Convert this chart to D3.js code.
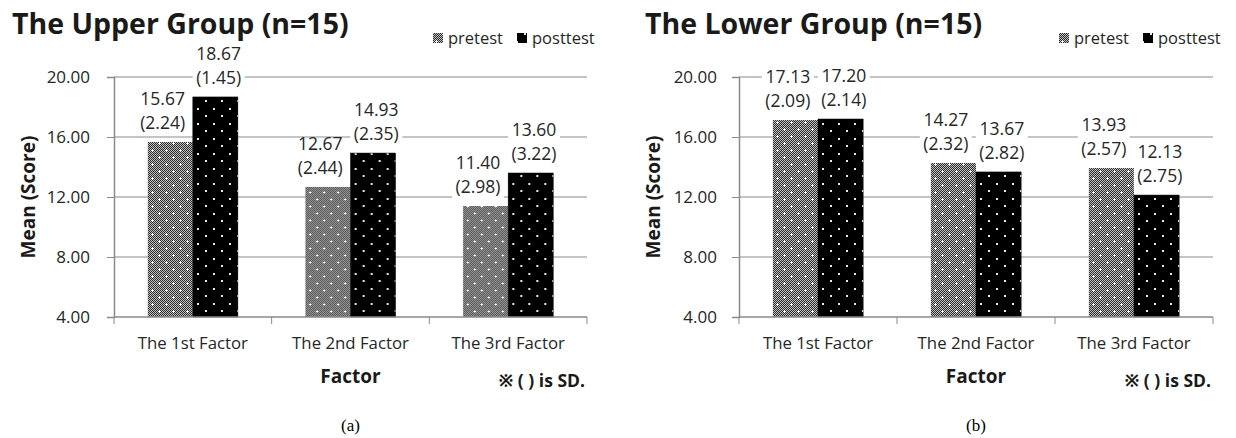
<!DOCTYPE html>
<html>
<head>
<meta charset="utf-8">
<script src="https://cdn.jsdelivr.net/npm/d3@7"></script>
<style>
  body { margin: 0; background: #fff; }
  svg { display: block; font-family: 'Open Sans', 'Noto Sans', sans-serif; }
</style>
</head>
<body>
<div id="chart"></div>
<script>
const factors = ['The 1st Factor', 'The 2nd Factor', 'The 3rd Factor']
const seriesNames = ['pretest', 'posttest']
const yTicks = [4, 8, 12, 16, 20]

const upperPre = [15.67, 12.67, 11.40]
const upperPreSD = [2.24, 2.44, 2.98]
const upperPost = [18.67, 14.93, 13.60]
const upperPostSD = [1.45, 2.35, 3.22]

const lowerPre = [17.13, 14.27, 13.93]
const lowerPreSD = [2.09, 2.32, 2.57]
const lowerPost = [17.20, 13.67, 12.13]
const lowerPostSD = [2.14, 2.82, 2.75]

const width = 1236
const height = 438
const textColor = '#262626'
const axisColor = '#8a8a8a'

const svg = d3.select('#chart')
  .append('svg')
  .attr('width', width)
  .attr('height', height)

// fill patterns: fine halftone with white crosses, black with white dots
const defs = svg.append('defs')
const checker = defs.append('pattern')
  .attr('id', 'checker')
  .attr('width', 2).attr('height', 2)
  .attr('patternUnits', 'userSpaceOnUse')
checker.append('rect').attr('width', 2).attr('height', 2).attr('fill', '#fff')
checker.append('rect').attr('width', 1).attr('height', 1).attr('fill', '#000')
checker.append('rect').attr('x', 1).attr('y', 1).attr('width', 1).attr('height', 1).attr('fill', '#000')

const prePat = defs.append('pattern')
  .attr('id', 'pat-pretest')
  .attr('width', 14).attr('height', 14)
  .attr('patternUnits', 'userSpaceOnUse')
prePat.append('rect').attr('width', 14).attr('height', 14).attr('fill', '#6a6a6a')
prePat.append('rect').attr('width', 14).attr('height', 14).attr('fill', 'url(#checker)').attr('opacity', 0.6)
;[[3, 3], [10, 10]].forEach(([cx, cy]) => {
  prePat.append('rect').attr('x', cx - 1).attr('y', cy).attr('width', 3).attr('height', 1).attr('fill', '#fff')
  prePat.append('rect').attr('x', cx).attr('y', cy - 1).attr('width', 1).attr('height', 3).attr('fill', '#fff')
})

const postPat = defs.append('pattern')
  .attr('id', 'pat-posttest')
  .attr('width', 16).attr('height', 15)
  .attr('patternUnits', 'userSpaceOnUse')
postPat.append('rect').attr('width', 16).attr('height', 15).attr('fill', '#000')
;[[3, 3], [11, 10]].forEach(([cx, cy]) => {
  postPat.append('rect').attr('x', cx).attr('y', cy).attr('width', 2).attr('height', 2).attr('fill', '#e8e8e8')
})

const fills = { pretest: 'url(#pat-pretest)', posttest: 'url(#pat-posttest)' }

function drawChart (opts) {
  const { left, right, title, titleX, pre, preSD, post, postSD, legendX, tickLabelX, yTitleX, caption } = opts
  const top = 77
  const bottom = 317

  const g = svg.append('g')

  const y = d3.scaleLinear().domain([4, 20]).range([bottom, top])
  const x = d3.scaleBand().domain(factors).range([left, right]).padding(0)
  const x1 = d3.scaleBand().domain(seriesNames).range([0, x.bandwidth()]).paddingInner(0).paddingOuter(0.75)

  // title
  g.append('text')
    .attr('x', titleX)
    .attr('y', 34)
    .attr('font-size', 28.5)
    .attr('font-weight', 'bold')
    .attr('fill', '#1a1a1a')
    .text(title)

  // legend
  const legend = g.append('g').attr('transform', `translate(${legendX},38)`)
  let lx = 0
  seriesNames.forEach(name => {
    legend.append('rect')
      .attr('x', lx).attr('y', -5)
      .attr('width', 10).attr('height', 10)
      .attr('fill', fills[name])
    const t = legend.append('text')
      .attr('x', lx + 15)
      .attr('dy', '0.35em')
      .attr('font-size', 16.5)
      .attr('fill', textColor)
      .text(name)
    lx += 15 + t.node().getComputedTextLength() + 14
  })

  // gridlines
  g.append('g')
    .selectAll('line')
    .data(yTicks.filter(d => d !== 4))
    .join('line')
    .attr('x1', left).attr('x2', right)
    .attr('y1', d => y(d)).attr('y2', d => y(d))
    .attr('stroke', axisColor)
    .attr('stroke-width', 1)

  // y axis
  const yAxis = g.append('g')
    .attr('transform', `translate(${left},0)`)
    .call(d3.axisLeft(y).tickValues(yTicks).tickFormat(d3.format('.2f')).tickSize(7).tickPadding(0))
  yAxis.select('.domain').attr('stroke', axisColor).attr('stroke-width', 1.5)
  yAxis.selectAll('.tick line').attr('stroke', axisColor)
  yAxis.selectAll('.tick text')
    .attr('x', tickLabelX - left)
    .attr('font-size', 17)
    .attr('font-family', "'Open Sans', sans-serif")
    .attr('fill', textColor)

  g.append('text')
    .attr('transform', `translate(${yTitleX},${(top + bottom) / 2}) rotate(-90)`)
    .attr('text-anchor', 'middle')
    .attr('dy', '0.35em')
    .attr('font-size', 19)
    .attr('font-weight', 'bold')
    .attr('fill', '#1a1a1a')
    .text('Mean (Score)')

  // bars
  const rows = factors.map((f, i) => ({
    factor: f,
    items: [
      { series: 'pretest', value: pre[i], sd: preSD[i] },
      { series: 'posttest', value: post[i], sd: postSD[i] }
    ]
  }))

  const groups = g.append('g')
    .selectAll('g')
    .data(rows)
    .join('g')
    .attr('transform', d => `translate(${x(d.factor)},0)`)

  groups.selectAll('rect')
    .data(d => d.items)
    .join('rect')
    .attr('x', d => x1(d.series))
    .attr('y', d => y(d.value))
    .attr('width', x1.bandwidth())
    .attr('height', d => bottom - y(d.value))
    .attr('fill', d => fills[d.series])
    .attr('stroke', d => d.series === 'posttest' ? '#000' : 'none')
    .attr('stroke-width', 0.5)

  // x axis: line + ticks on category boundaries
  const xAxis = g.append('g')
  xAxis.append('line')
    .attr('x1', left).attr('x2', right)
    .attr('y1', bottom).attr('y2', bottom)
    .attr('stroke', axisColor).attr('stroke-width', 1.5)
  xAxis.selectAll('.bound')
    .data([...factors.map(f => x(f)), right])
    .join('line')
    .attr('class', 'bound')
    .attr('x1', d => d).attr('x2', d => d)
    .attr('y1', bottom).attr('y2', bottom + 7)
    .attr('stroke', axisColor)
  xAxis.selectAll('.xlab')
    .data(factors)
    .join('text')
    .attr('class', 'xlab')
    .attr('x', d => x(d) + x.bandwidth() / 2)
    .attr('y', 343)
    .attr('dy', '0.35em')
    .attr('text-anchor', 'middle')
    .attr('font-size', 16.8)
    .attr('fill', textColor)
    .text(d => d)

  g.append('text')
    .attr('x', (left + right) / 2)
    .attr('y', 376)
    .attr('dy', '0.35em')
    .attr('text-anchor', 'middle')
    .attr('font-size', 19)
    .attr('font-weight', 'bold')
    .attr('fill', '#1a1a1a')
    .text('Factor')

  g.append('text')
    .attr('x', right - 2)
    .attr('y', 381)
    .attr('dy', '0.35em')
    .attr('text-anchor', 'end')
    .attr('font-size', 17.5)
    .attr('font-weight', 'bold')
    .attr('fill', '#1a1a1a')
    .text('※ ( ) is SD.')

  g.append('text')
    .attr('x', (left + right) / 2)
    .attr('y', 425)
    .attr('dy', '0.35em')
    .attr('text-anchor', 'middle')
    .attr('font-size', 17)
    .attr('font-family', "'Liberation Serif', 'DejaVu Serif', serif")
    .attr('fill', '#000')
    .text(caption)

  // data labels (value + SD), nudged apart when they collide
  const labels = []
  rows.forEach(r => {
    const [a, b] = r.items.map(d => ({
      ...d,
      cx: x(r.factor) + x1(d.series) + x1.bandwidth() / 2,
      top: y(d.value)
    }))
    if (Math.abs(a.top - b.top) < 46) {
      const need = 56 - (b.cx - a.cx)
      if (need > 0) {
        a.cx -= need * 0.7
        b.cx += need * 0.3
      }
    }
    labels.push(a, b)
  })

  const lab = g.append('g')
    .selectAll('g')
    .data(labels)
    .join('g')
    .attr('transform', d => `translate(${d.cx},${d.top})`)

  lab.append('rect')
    .attr('x', -26).attr('y', -49)
    .attr('width', 52).attr('height', 43)
    .attr('fill', '#fff')

  lab.append('text')
    .attr('y', -37)
    .attr('text-anchor', 'middle')
    .attr('font-size', 17.5)
    .attr('fill', textColor)
    .text(d => d.value.toFixed(2))

  lab.append('text')
    .attr('y', -13)
    .attr('text-anchor', 'middle')
    .attr('font-size', 17.5)
    .attr('fill', textColor)
    .text(d => `(${d.sd.toFixed(2)})`)
}

drawChart({
  left: 114, right: 587,
  title: 'The Upper Group (n=15)', titleX: 12,
  pre: upperPre, preSD: upperPreSD, post: upperPost, postSD: upperPostSD,
  legendX: 433, tickLabelX: 90, yTitleX: 28, caption: '(a)'
})

drawChart({
  left: 739, right: 1213,
  title: 'The Lower Group (n=15)', titleX: 645,
  pre: lowerPre, preSD: lowerPreSD, post: lowerPost, postSD: lowerPostSD,
  legendX: 1059, tickLabelX: 717, yTitleX: 653, caption: '(b)'
})
</script>
</body>
</html>
